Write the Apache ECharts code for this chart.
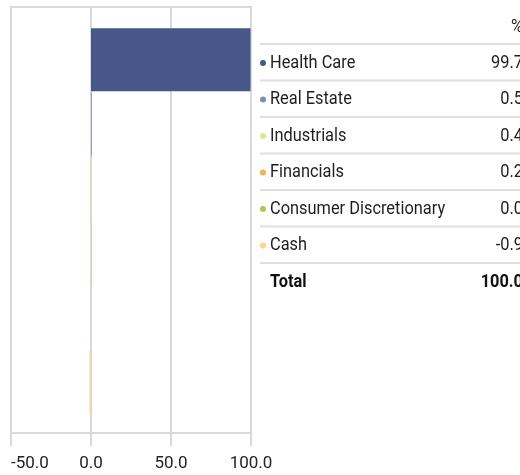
<!DOCTYPE html>
<html>
<head>
<meta charset="utf-8">
<script src="https://cdn.jsdelivr.net/npm/echarts@6/dist/echarts.min.js"></script>
<style>
html,body{margin:0;padding:0;background:#fff;}
#c{width:520px;height:475px;}
</style>
</head>
<body>
<div id="c"></div>
<script>
const categories = ['Health Care','Real Estate','Industrials','Financials','Consumer Discretionary','Cash'];
const values = [99.7, 0.5, 0.4, 0.2, 0.0, -0.9];
const colors = ['#465788','#7f8bb8','#dce68a','#f6b14e','#a9c84c','#ffd28e'];
const totalLabel = 'Total';
const totalValue = 100.0;
const headerLabel = '%';
const xTicks = {min:-50, max:100, interval:50};

const FONT = "Roboto,'Liberation Sans',sans-serif";
const GRID_COLOR = '#d9d9d9';
const SX = 0.91;

const chart = echarts.init(document.getElementById('c'), null, {renderer:'canvas'});

const graphics = [];
const rowTop = 44, rowH = 36.5, tableLeft = 260, tableRight = 520, valRight = 523;
function txt(t, x, y, align, bold){
  return {type:'text', x:x, y:y, scaleX:SX,
    style:{text:t, x:0, y:0, align:align, verticalAlign:'middle', font:(bold?'bold ':'')+'18px '+FONT, fill:bold?'#111':'#1e1e1e'}};
}
graphics.push(txt(headerLabel, valRight, 27, 'right', false));
for (let i = 0; i <= categories.length; i++) {
  graphics.push({type:'line', shape:{x1:tableLeft, y1:rowTop + i*rowH, x2:tableRight, y2:rowTop + i*rowH}, style:{stroke:'#e0e0e0', lineWidth:2}});
}
categories.forEach((c, i) => {
  const yc = rowTop + i*rowH + rowH/2 + 0.8;
  graphics.push({type:'circle', shape:{cx:263, cy:yc, r:3}, style:{fill:colors[i]}});
  graphics.push(txt(c, 270, yc, 'left', false));
  graphics.push(txt(values[i].toFixed(1), valRight, yc, 'right', false));
});
const ty = rowTop + categories.length*rowH + rowH/2 + 0.8;
graphics.push(txt(totalLabel, 270, ty, 'left', true));
graphics.push(txt(totalValue.toFixed(1), valRight, ty, 'right', true));

const option = {
  animation:false,
  grid:[
    {left:11, right:269, top:7, bottom:42, outerBoundsMode:'none', containLabel:false},
    {left:11, right:269, top:27.5, height:386.5, outerBoundsMode:'none', containLabel:false}
  ],
  xAxis:[
    {gridIndex:0, type:'value', min:xTicks.min, max:xTicks.max, interval:xTicks.interval, position:'bottom',
     axisLine:{show:true, lineStyle:{color:GRID_COLOR, width:2}},
     axisTick:{show:true, length:13, lineStyle:{color:GRID_COLOR, width:2}},
     splitLine:{show:true, lineStyle:{color:GRID_COLOR, width:2}},
     axisLabel:{formatter:v=>v.toFixed(1), fontSize:17, fontFamily:FONT, color:'#222', margin:22, alignMinLabel:'left'}},
    {gridIndex:0, type:'value', min:xTicks.min, max:xTicks.max, position:'top',
     axisLine:{show:true, onZero:false, lineStyle:{color:GRID_COLOR, width:2}},
     axisTick:{show:false}, splitLine:{show:false}, axisLabel:{show:false}},
    {gridIndex:1, type:'value', min:xTicks.min, max:xTicks.max, show:false}
  ],
  yAxis:[
    {gridIndex:0, type:'value', show:false, splitLine:{show:false}},
    {gridIndex:1, type:'category', data:categories, inverse:true, show:false}
  ],
  series:[{
    type:'bar', xAxisIndex:2, yAxisIndex:1, barWidth:'98%',
    data: values.map((v,i)=>({value:v, itemStyle:{color:colors[i]}}))
  }],
  graphic: graphics
};
chart.setOption(option);
</script>
</body>
</html>
